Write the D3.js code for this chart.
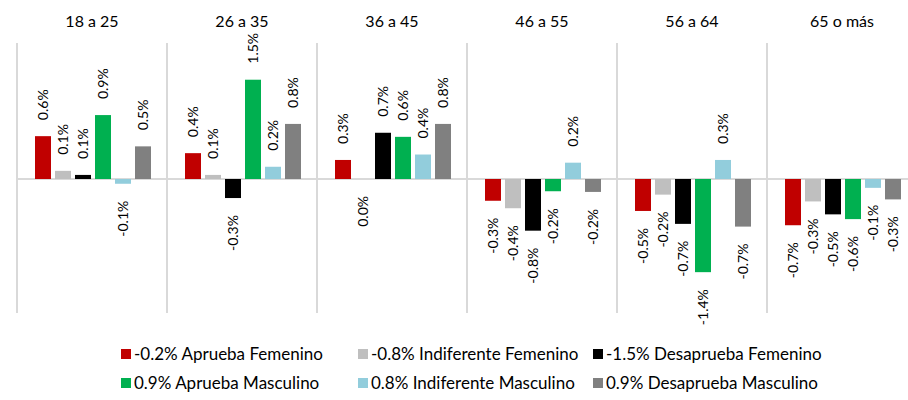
<!DOCTYPE html>
<html>
<head>
<meta charset="utf-8">
<script src="https://cdn.jsdelivr.net/npm/d3@7"></script>
<style>
  body { margin: 0; background: #fff; }
  text { font-family: Lato, "Open Sans", sans-serif; fill: #000; }
</style>
</head>
<body>
<div id="chart"></div>
<script>
// age groups across the top
const groups = ['18 a 25', '26 a 35', '36 a 45', '46 a 55', '56 a 64', '65 o más'];

// one array per series, values in percent
const apruebaFem = [0.63, 0.38, 0.28, -0.32, -0.47, -0.68];
const indiferenteFem = [0.12, 0.06, 0.0, -0.43, -0.23, -0.33];
const desapruebaFem = [0.06, -0.28, 0.68, -0.76, -0.66, -0.52];
const apruebaMasc = [0.94, 1.46, 0.62, -0.18, -1.37, -0.59];
const indiferenteMasc = [-0.07, 0.18, 0.36, 0.24, 0.28, -0.13];
const desapruebaMasc = [0.48, 0.81, 0.81, -0.19, -0.7, -0.3];

const seriesNames = ['Aprueba Femenino', 'Indiferente Femenino', 'Desaprueba Femenino',
  'Aprueba Masculino', 'Indiferente Masculino', 'Desaprueba Masculino'];
const legendTotals = ['-0.2%', '-0.8%', '-1.5%', '0.9%', '0.8%', '0.9%'];
const colors = ['#c00000', '#bfbfbf', '#000000', '#00b050', '#92cddc', '#808080'];

const seriesValues = [apruebaFem, indiferenteFem, desapruebaFem, apruebaMasc, indiferenteMasc, desapruebaMasc];

const width = 908;
const height = 400;

const svg = d3.select('#chart').append('svg')
  .attr('width', width)
  .attr('height', height);

const x = d3.scaleBand()
  .domain(groups)
  .range([17, 917]);

const xInner = d3.scaleBand()
  .domain(seriesNames)
  .range([16, 136])
  .paddingInner(0.2)
  .paddingOuter(0.1);

const y = d3.scaleLinear()
  .domain([-2, 2])
  .range([315, 43]);

// panel separators
svg.append('g')
  .selectAll('line')
  .data(groups)
  .join('line')
  .attr('x1', d => x(d))
  .attr('x2', d => x(d))
  .attr('y1', y(2))
  .attr('y2', y(-1.97))
  .attr('stroke', '#d9d9d9')
  .attr('stroke-width', 2);

// zero line
svg.append('line')
  .attr('x1', x.range()[0])
  .attr('x2', width)
  .attr('y1', y(0))
  .attr('y2', y(0))
  .attr('stroke', '#d9d9d9')
  .attr('stroke-width', 2);

// group titles
svg.append('g')
  .selectAll('text')
  .data(groups)
  .join('text')
  .attr('x', d => x(d) + x.bandwidth() / 2)
  .attr('y', 27)
  .attr('text-anchor', 'middle')
  .style('font-size', '16px')
  .text(d => d);

const cells = [];
groups.forEach((g, gi) => {
  seriesNames.forEach((s, si) => {
    cells.push({ group: g, series: s, color: colors[si], value: seriesValues[si][gi] });
  });
});

const fmt = v => (Math.round(v * 10) / 10).toFixed(1) + '%';

svg.append('g')
  .selectAll('rect')
  .data(cells)
  .join('rect')
  .attr('x', d => x(d.group) + xInner(d.series))
  .attr('width', xInner.bandwidth())
  .attr('y', d => y(Math.max(0, d.value)))
  .attr('height', d => Math.abs(y(d.value) - y(0)))
  .attr('fill', d => d.color);

svg.append('g')
  .selectAll('text')
  .data(cells)
  .join('text')
  .attr('transform', d => {
    const cx = x(d.group) + xInner(d.series) + xInner.bandwidth() / 2;
    const cy = d.value > 0 ? y(d.value) - 16 : y(d.value) + 17;
    return `translate(${cx},${cy}) rotate(-90)`;
  })
  .attr('dy', '0.36em')
  .attr('text-anchor', d => d.value > 0 ? 'start' : 'end')
  .style('font-size', '14px')
  .text(d => fmt(d.value));

// legend
const legendX = [121, 358, 593];
const legendY = [354, 383];
const legend = svg.append('g')
  .selectAll('g')
  .data(seriesNames)
  .join('g')
  .attr('transform', (d, i) => `translate(${legendX[i % 3]},${legendY[Math.floor(i / 3)]})`);

legend.append('rect')
  .attr('x', 0)
  .attr('y', -5)
  .attr('width', 10)
  .attr('height', 10)
  .attr('fill', (d, i) => colors[i]);

legend.append('text')
  .attr('x', 13)
  .attr('dy', '0.35em')
  .style('font-size', '17px')
  .text((d, i) => `${legendTotals[i]} ${d}`);
</script>
</body>
</html>
